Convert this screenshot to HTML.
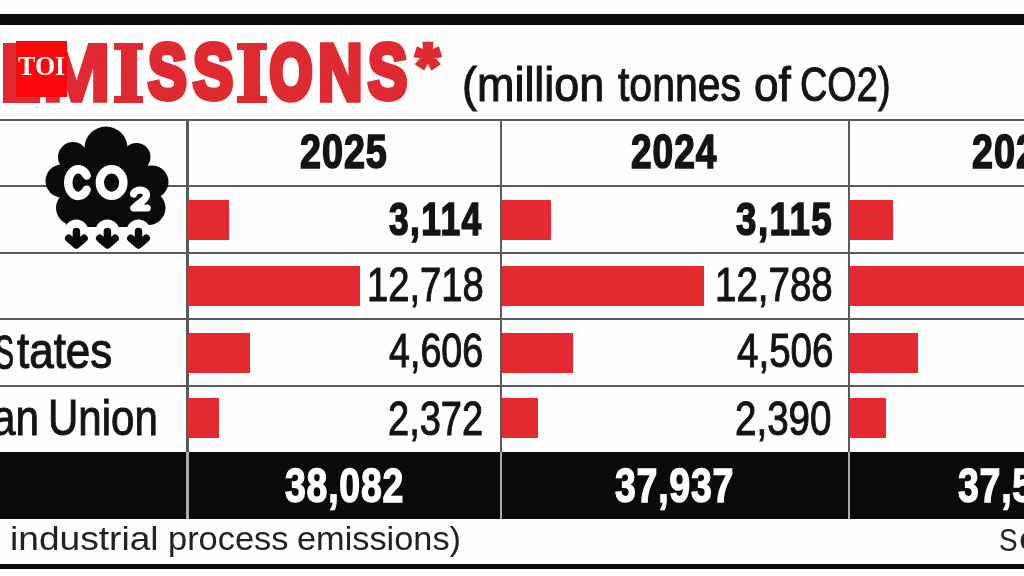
<!DOCTYPE html>
<html><head><meta charset="utf-8">
<style>
html,body{margin:0;padding:0;overflow:hidden;background:#fefefe;}
body{width:1024px;height:576px;position:relative;overflow:hidden;background:#fefefe;font-family:"Liberation Sans",sans-serif;}
.abs{position:absolute;}
.hl{position:absolute;left:-20px;width:1064px;height:2px;background:#5a5a5a;}
.vl{position:absolute;width:2.2px;background:#5a5a5a;}
.bar{position:absolute;background:#e52930;height:40px;}
.t{position:absolute;white-space:nowrap;line-height:1;transform-origin:0 0;}
#w{position:absolute;left:0;top:0;width:1024px;height:576px;filter:blur(0.55px);}
</style></head><body><div id="w">
<!-- top bar -->
<div class="abs" style="left:-20px;top:13.8px;width:1064px;height:11.5px;background:#0a0a0a;"></div>
<!-- grid lines -->
<div class="hl" style="top:119px;"></div>
<div class="hl" style="top:185px;"></div>
<div class="hl" style="top:252px;"></div>
<div class="hl" style="top:318px;"></div>
<div class="hl" style="top:385px;"></div>
<div class="vl" style="left:186.4px;top:119px;height:400px;"></div>
<div class="vl" style="left:499.5px;top:119px;height:400px;"></div>
<div class="vl" style="left:847.5px;top:119px;height:400px;"></div>
<!-- black total row -->
<div class="abs" style="left:-20px;top:452px;width:1064px;height:67px;background:#0a0a0a;"></div>
<div class="vl" style="left:186.4px;top:452px;height:67px;background:#aaa;"></div>
<div class="vl" style="left:499.5px;top:452px;height:67px;background:#aaa;"></div>
<div class="vl" style="left:847.5px;top:452px;height:67px;background:#aaa;"></div>
<!-- bars -->
<div class="bar" style="left:188px;top:199.6px;width:41px;"></div>
<div class="bar" style="left:188px;top:265.7px;width:172px;"></div>
<div class="bar" style="left:188px;top:333.2px;width:62px;"></div>
<div class="bar" style="left:188px;top:397.5px;width:31px;"></div>
<div class="bar" style="left:502px;top:199.6px;width:49px;"></div>
<div class="bar" style="left:502px;top:265.7px;width:202px;"></div>
<div class="bar" style="left:502px;top:333.2px;width:71px;"></div>
<div class="bar" style="left:502px;top:397.5px;width:36px;"></div>
<div class="bar" style="left:850px;top:199.6px;width:43px;"></div>
<div class="bar" style="left:850px;top:265.7px;width:194px;"></div>
<div class="bar" style="left:850px;top:333.2px;width:68px;"></div>
<div class="bar" style="left:850px;top:397.5px;width:36px;"></div>
<!-- E letter -->
<div class="abs" style="left:3.4px;top:43px;width:14px;height:59.500000px;background:#df2a31;"></div>
<div class="abs" style="left:3.4px;top:92px;width:36.8px;height:10.500000px;background:#df2a31;"></div>
<!-- I letters -->
<div class="abs" style="left:120.5px;top:43px;width:16px;height:59.5px;background:#df2a31;"></div>
<div class="abs" style="left:114px;top:43px;width:28.6px;height:7px;background:#df2a31;"></div>
<div class="abs" style="left:114px;top:95.5px;width:28.6px;height:7px;background:#df2a31;"></div>
<div class="abs" style="left:244px;top:43px;width:15.5px;height:59.5px;background:#df2a31;"></div>
<div class="abs" style="left:236.6px;top:43px;width:30px;height:7px;background:#df2a31;"></div>
<div class="abs" style="left:236.6px;top:95.5px;width:30px;height:7px;background:#df2a31;"></div>
<div class="t" style="left:41.56px;top:31.59px;font-size:81.51px;transform:scaleX(1.0163);color:#df2a31;font-weight:bold;-webkit-text-stroke:3.26px #df2a31;">M</div>
<div class="t" style="left:147.66px;top:33.44px;font-size:77.85px;transform:scaleX(0.7462);color:#df2a31;font-weight:bold;-webkit-text-stroke:5.84px #df2a31;">S</div>
<div class="t" style="left:192.71px;top:33.44px;font-size:77.85px;transform:scaleX(0.7745);color:#df2a31;font-weight:bold;-webkit-text-stroke:5.84px #df2a31;">S</div>
<div class="t" style="left:270.04px;top:34.41px;font-size:75.93px;transform:scaleX(0.7112);color:#df2a31;font-weight:bold;-webkit-text-stroke:7.59px #df2a31;">O</div>
<div class="t" style="left:317.85px;top:32.69px;font-size:79.33px;transform:scaleX(0.7792);color:#df2a31;font-weight:bold;-webkit-text-stroke:5.55px #df2a31;">N</div>
<div class="t" style="left:368.18px;top:33.44px;font-size:77.85px;transform:scaleX(0.7556);color:#df2a31;font-weight:bold;-webkit-text-stroke:5.84px #df2a31;">S</div>
<div class="t" style="left:416.43px;top:34.91px;font-size:62.22px;transform:scaleX(0.9745);color:#df2a31;font-weight:bold;-webkit-text-stroke:4.36px #df2a31;">*</div>
<div class="t" style="left:461.97px;top:60.13px;font-size:48.82px;transform:scaleX(0.9207);color:#141414;-webkit-text-stroke:1.07px #141414;">(million</div>
<div class="t" style="left:618.00px;top:60.13px;font-size:48.82px;transform:scaleX(0.8387);color:#141414;-webkit-text-stroke:1.07px #141414;">tonnes</div>
<div class="t" style="left:753.67px;top:60.13px;font-size:48.82px;transform:scaleX(0.9056);color:#141414;-webkit-text-stroke:1.07px #141414;">of</div>
<div class="t" style="left:799.73px;top:60.13px;font-size:48.82px;transform:scaleX(0.7760);color:#141414;-webkit-text-stroke:1.07px #141414;">CO2)</div>
<div class="t" style="left:300.49px;top:127.55px;font-size:47.67px;transform:scaleX(0.7925);color:#141414;font-weight:bold;letter-spacing:1.19px;-webkit-text-stroke:1.67px #141414;">2025</div>
<div class="t" style="left:631.26px;top:127.55px;font-size:47.67px;transform:scaleX(0.7787);color:#141414;font-weight:bold;letter-spacing:1.19px;-webkit-text-stroke:1.67px #141414;">2024</div>
<div class="t" style="left:971.84px;top:127.55px;font-size:47.67px;transform:scaleX(0.7925);color:#141414;font-weight:bold;letter-spacing:1.19px;-webkit-text-stroke:1.67px #141414;">2023</div>
<div class="t" style="left:389.25px;top:195.14px;font-size:47.00px;transform:scaleX(0.7532);color:#141414;font-weight:bold;letter-spacing:1.88px;-webkit-text-stroke:1.65px #141414;">3,114</div>
<div class="t" style="left:735.75px;top:195.14px;font-size:47.00px;transform:scaleX(0.7815);color:#141414;font-weight:bold;letter-spacing:1.88px;-webkit-text-stroke:1.65px #141414;">3,115</div>
<div class="t" style="left:366.83px;top:261.38px;font-size:47.26px;transform:scaleX(0.8085);color:#141414;-webkit-text-stroke:1.04px #141414;">12,718</div>
<div class="t" style="left:389.42px;top:327.38px;font-size:47.26px;transform:scaleX(0.7973);color:#141414;-webkit-text-stroke:1.04px #141414;">4,606</div>
<div class="t" style="left:388.48px;top:394.88px;font-size:47.26px;transform:scaleX(0.8044);color:#141414;-webkit-text-stroke:1.04px #141414;">2,372</div>
<div class="t" style="left:715.11px;top:261.38px;font-size:47.26px;transform:scaleX(0.8142);color:#141414;-webkit-text-stroke:1.04px #141414;">12,788</div>
<div class="t" style="left:736.51px;top:327.38px;font-size:47.26px;transform:scaleX(0.8154);color:#141414;-webkit-text-stroke:1.04px #141414;">4,506</div>
<div class="t" style="left:735.36px;top:394.88px;font-size:47.26px;transform:scaleX(0.8160);color:#141414;-webkit-text-stroke:1.04px #141414;">2,390</div>
<div class="t" style="left:284.62px;top:460.69px;font-size:48.63px;transform:scaleX(0.7711);color:#fff;font-weight:bold;letter-spacing:0.97px;-webkit-text-stroke:1.46px #fff;">38,082</div>
<div class="t" style="left:615.12px;top:460.69px;font-size:48.63px;transform:scaleX(0.7711);color:#fff;font-weight:bold;letter-spacing:0.97px;-webkit-text-stroke:1.46px #fff;">37,937</div>
<div class="t" style="left:957.52px;top:460.69px;font-size:48.63px;transform:scaleX(0.7711);color:#fff;font-weight:bold;letter-spacing:0.97px;-webkit-text-stroke:1.46px #fff;">37,522</div>
<div class="t" style="left:47.76px;top:393.19px;font-size:49.21px;transform:scaleX(0.8536);color:#141414;-webkit-text-stroke:0.98px #141414;">Union</div>
<div class="t" style="left:-7.76px;top:393.19px;font-size:49.21px;transform:scaleX(0.8580);color:#141414;-webkit-text-stroke:0.98px #141414;">an</div>
<div class="t" style="left:17.10px;top:325.76px;font-size:50.50px;transform:scaleX(0.8698);color:#141414;-webkit-text-stroke:1.11px #141414;">tates</div>
<div class="t" style="left:-4.64px;top:327.83px;font-size:48.36px;transform:scaleX(0.5889);color:#141414;-webkit-text-stroke:0.97px #141414;">S</div>
<div class="t" style="left:9.70px;top:523.04px;font-size:32.97px;transform:scaleX(1.1261);color:#222;">industrial</div>
<div class="t" style="left:167.59px;top:523.04px;font-size:32.97px;transform:scaleX(1.0436);color:#222;">process</div>
<div class="t" style="left:297.13px;top:523.04px;font-size:32.97px;transform:scaleX(1.0410);color:#222;">emissions)</div>
<div class="t" style="left:999.31px;top:524.75px;font-size:30.99px;transform:scaleX(0.9002);color:#222;">S</div>
<div class="t" style="left:1018.61px;top:523.04px;font-size:32.97px;transform:scaleX(1.1261);color:#222;">o</div>
<div class="abs" style="left:-20px;top:563.5px;width:1064px;height:5px;background:#0a0a0a;"></div>
<!-- cloud icon -->
<svg class="abs" style="left:40px;top:120px;" width="140" height="140" viewBox="40 120 140 140">
<g fill="#0a0a0a">
<circle cx="106" cy="148" r="21.5"/>
<circle cx="73" cy="157" r="15"/>
<circle cx="136.5" cy="157" r="14"/>
<circle cx="62" cy="181" r="16.5"/>
<circle cx="152" cy="182" r="16.5"/>
<circle cx="73" cy="208" r="17"/>
<circle cx="148.500000" cy="208" r="17"/>
<rect x="66" y="160" width="82" height="67"/><rect x="80" y="148" width="52" height="20"/>
</g>
<g fill="#fefefe">
<circle cx="76.4" cy="231.500000" r="12"/>
<circle cx="107.4" cy="231.500000" r="12"/>
<circle cx="138.500000" cy="231.500000" r="12"/>
</g>
<g fill="none" stroke="#fff" stroke-width="8.4" stroke-linecap="round" stroke-linejoin="round">
<path d="M86.68 175.48 A10 13.35 0 1 0 86.68 189.62"/>
<ellipse cx="111.6" cy="182.55" rx="11.8" ry="13.35"/>
</g>
<g fill="none" stroke="#fff" stroke-width="7.2" stroke-linecap="round" stroke-linejoin="round">
<path d="M133.600000 194 C134.500000 189 146.500000 188.500000 146.500000 195 C146.500000 200 138 203 133.800000 208 L147.200000 208"/>
</g>
<g fill="none" stroke="#0a0a0a" stroke-width="7.5" stroke-linecap="round" stroke-linejoin="round">
<path d="M76.4 231.500000 V243 M68.700000 238.300000 L76.4 245 L84.100000 238.300000"/>
<path d="M107.4 231.500000 V243 M99.700000 238.300000 L107.4 245 L115.100000 238.300000"/>
<path d="M138.500000 231.500000 V243 M130.800000 238.300000 L138.500000 245 L146.200000 238.300000"/>
</g>
</svg>
</div>
<!-- TOI badge -->
<div class="abs" style="left:16px;top:40.7px;width:51.2px;height:56px;background:#fe0509;z-index:2;"></div>
<div class="t" style="font-family:'Liberation Serif';left:17.78px;top:52.13px;font-size:27.61px;transform:scaleX(0.9424);color:#fff;z-index:3;font-weight:bold;">TOI</div>
</body></html>
